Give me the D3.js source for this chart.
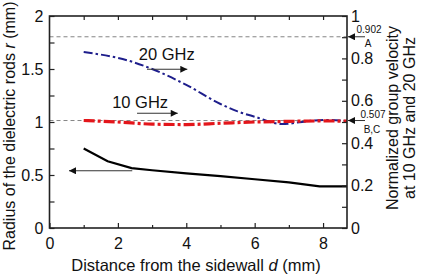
<!DOCTYPE html>
<html><head><meta charset="utf-8">
<script src="https://cdn.jsdelivr.net/npm/d3@7"></script>
<style>body{margin:0;background:#fff}svg{display:block}text{font-family:Arial,"Liberation Sans",sans-serif;fill:#111}</style>
</head><body><svg id="c" width="425" height="278"></svg>
<script>
// Data
const radiusD = [1, 1.7, 2.4, 3, 4, 5, 6, 7, 7.9, 8.7];
const radiusR = [0.75, 0.63, 0.565, 0.545, 0.515, 0.49, 0.46, 0.43, 0.393, 0.393];
const v20D = [1, 2.4, 3, 4, 5, 5.5, 6, 6.8, 7.5, 8, 8.7];
const v20V = [0.83, 0.785, 0.75, 0.675, 0.585, 0.55, 0.525, 0.49, 0.503, 0.51, 0.505];
const v10D = [1, 2, 3, 4, 5, 6, 7, 8, 8.7];
const v10V = [0.507, 0.5, 0.49, 0.488, 0.494, 0.5, 0.503, 0.505, 0.504];
const refLevels = [0.902, 0.507];
const refLabels = [["0.902", "A"], ["0.507", "B,C"]];
const xTicks = [0, 2, 4, 6, 8];
const yLTicks = [0, 0.5, 1, 1.5, 2];
const yRTicks = [0, 0.2, 0.4, 0.6, 0.8, 1];

const svg = d3.select("#c");
const L = 49.5, R = 347, T = 16, B = 228;
const x = d3.scaleLinear().domain([0, 8.7]).range([L, R]);
const yL = d3.scaleLinear().domain([0, 2]).range([B, T]);
const yR = d3.scaleLinear().domain([0, 1]).range([B, T]);

// reference dashed lines
refLevels.forEach(v => {
  svg.append("line").attr("x1", L).attr("x2", R).attr("y1", yR(v)).attr("y2", yR(v))
    .attr("stroke", "#777").attr("stroke-width", 0.9).attr("stroke-dasharray", "4,3");
});

// curves
const lineR = d3.line().x((d,i) => x(radiusD[i])).y(d => yL(d));
svg.append("path").attr("d", lineR(radiusR)).attr("fill","none").attr("stroke","#000").attr("stroke-width",2.2);
const line20 = d3.line().curve(d3.curveMonotoneX).x((d,i) => x(v20D[i])).y(d => yR(d));
svg.append("path").attr("d", line20(v20V)).attr("fill","none").attr("stroke","#1e1e8c").attr("stroke-width",2)
  .attr("stroke-dasharray","9,3,2.5,3");
const line10 = d3.line().curve(d3.curveMonotoneX).x((d,i) => x(v10D[i])).y(d => yR(d));
svg.append("path").attr("d", line10(v10V)).attr("fill","none").attr("stroke","#e3161b").attr("stroke-width",3.2)
  .attr("stroke-dasharray","11,3,3,3");

// axes
const g = svg.append("g");
const xb = d3.axisBottom(x).tickValues(xTicks).tickSize(-5).tickPadding(10).tickFormat(d3.format("d"));
g.append("g").attr("transform",`translate(0,${B})`).call(xb);
const xbm = d3.axisBottom(x).tickValues([1,3,5,7]).tickSize(-3).tickFormat("");
g.append("g").attr("transform",`translate(0,${B})`).call(xbm);
const xt = d3.axisTop(x).tickValues([1,2,3,4,5,6,7,8]).tickSize(-4).tickFormat("");
g.append("g").attr("transform",`translate(0,${T})`).call(xt);
const yl = d3.axisLeft(yL).tickValues(yLTicks).tickSize(-5).tickPadding(6).tickFormat(d => d3.format("")(d));
g.append("g").attr("transform",`translate(${L},0)`).call(yl);
const ylm = d3.axisLeft(yL).tickValues([0.25,0.75,1.25,1.75]).tickSize(-5).tickFormat("");
g.append("g").attr("transform",`translate(${L},0)`).call(ylm);
const yr = d3.axisRight(yR).tickValues(yRTicks).tickSize(-5).tickPadding(4).tickFormat(d => d3.format("")(d));
g.append("g").attr("transform",`translate(${R},0)`).call(yr);
const yrm = d3.axisRight(yR).tickValues([0.1,0.3,0.5,0.7,0.9]).tickSize(-5).tickFormat("");
g.append("g").attr("transform",`translate(${R},0)`).call(yrm);
g.selectAll(".domain").remove();
g.selectAll("line").attr("stroke","#222").attr("stroke-width",1.2);
g.selectAll("text").style("font-size","16px").style("font-family","Arial, 'Liberation Sans', sans-serif").attr("fill","#111");
svg.append("rect").attr("x",L).attr("y",T).attr("width",R-L).attr("height",B-T)
  .attr("fill","none").attr("stroke","#222").attr("stroke-width",1.6);

// arrow marker
const defs = svg.append("defs");
defs.append("marker").attr("id","ah").attr("viewBox","0 0 10 10").attr("refX",10).attr("refY",5)
  .attr("markerWidth",10).attr("markerHeight",7).attr("markerUnits","userSpaceOnUse").attr("orient","auto")
  .append("path").attr("d","M0,0L10,5L0,10Z").attr("fill","#111");
function arrow(x1,y1,x2,y2,w){
  svg.append("line").attr("x1",x1).attr("y1",y1).attr("x2",x2).attr("y2",y2)
    .attr("stroke","#333").attr("stroke-width",w||1.1).attr("marker-end","url(#ah)");
}

// annotations
svg.append("text").attr("x",x(3.43)).attr("y",yL(1.585)).attr("text-anchor","middle").style("font-size","16.5px").text("20 GHz");
arrow(x(2.85), yL(1.497), x(4.03), yL(1.497));
svg.append("text").attr("x",x(2.65)).attr("y",yL(1.13)).attr("text-anchor","middle").style("font-size","16.5px").text("10 GHz");
arrow(x(2.56), yL(1.082), x(3.75), yL(1.082));
arrow(x(2.42), yL(0.54), x(0.57), yL(0.54));

const labX = [[369, 368], [373, 372]];
const labDy = [[-4, 10.5], [-2.5, 12]];
refLevels.forEach((v,i) => {
  arrow(R+18, yR(v), R+1, yR(v), 1);
  svg.append("text").attr("x",labX[i][0]).attr("y",yR(v)+labDy[i][0]).attr("text-anchor","middle").style("font-size","10px").text(refLabels[i][0]);
  svg.append("text").attr("x",labX[i][1]).attr("y",yR(v)+labDy[i][1]).attr("text-anchor","middle").style("font-size","10px").text(refLabels[i][1]);
});

// axis titles
svg.append("text").attr("x",196).attr("y",271).attr("text-anchor","middle").style("font-size","16.5px")
  .html('Distance from the sidewall <tspan font-style="italic">d</tspan> (mm)');
svg.append("text").attr("transform","translate(15,126) rotate(-90)").attr("text-anchor","middle").style("font-size","16px")
  .html('Radius of the dielectric rods <tspan font-style="italic">r</tspan> (mm)');
svg.append("text").attr("transform","translate(398,118) rotate(-90)").attr("text-anchor","middle").style("font-size","16px")
  .text("Normalized group velocity");
svg.append("text").attr("transform","translate(415,118) rotate(-90)").attr("text-anchor","middle").style("font-size","16px")
  .text("at 10 GHz and 20 GHz");
</script></body></html>
